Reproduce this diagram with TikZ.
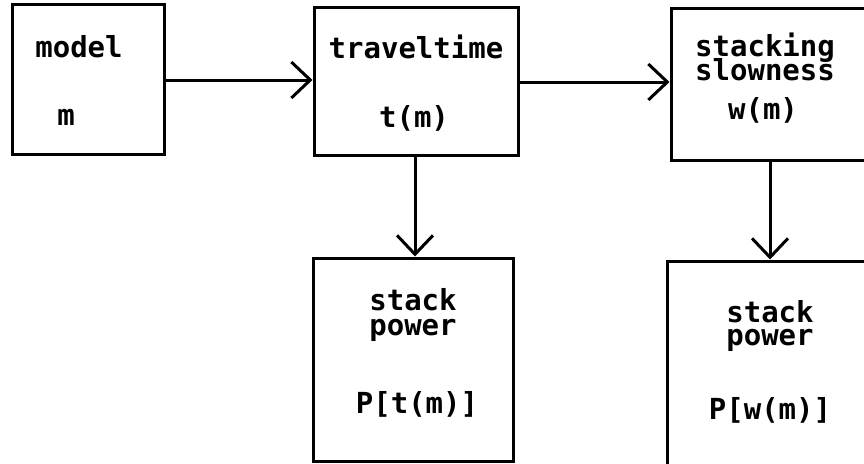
\documentclass[tikz,border=0pt]{standalone}
\usepackage{fontspec}
\setmonofont{DejaVu Sans Mono}
\usetikzlibrary{arrows.meta}
\begin{document}
\begin{tikzpicture}[x=1pt,y=-1pt,
  box/.style={draw, line width=3pt, rectangle, inner sep=0pt},
  lbl/.style={font=\ttfamily\bfseries\fontsize{29}{30}\selectfont, inner sep=0pt, anchor=base},
  flow/.style={line width=3pt, -{Straight Barb[length=19pt,width=36pt,line width=3pt]}}]
\clip (0,0) rectangle (864,463);
% boxes
\node[box, minimum width=152pt, minimum height=150pt] (model) at (88,79) {};
\node[box, minimum width=204pt, minimum height=148pt] (tt) at (416,81) {};
\node[box, minimum width=230pt, minimum height=152pt] (ss) at (786,84) {};
\node[box, minimum width=200pt, minimum height=203pt] (sp1) at (413,359.5) {};
\node[box, minimum width=230pt, minimum height=240pt] (sp2) at (782,381) {};
% labels
\node[lbl] (tmodel) at (79,57) {model};
\node[lbl] (tm) at (66,125) {m};
\node[lbl] (ttt) at (416,58) {traveltime};
\node[lbl] (ttm) at (414,127) {t(m)};
\node[lbl] (tstk) at (765,56) {stacking};
\node[lbl] (tslo) at (765,80) {slowness};
\node[lbl] (twm) at (763,119) {w(m)};
\node[lbl] (tst1) at (413,310) {stack};
\node[lbl] (tpw1) at (413,335) {power};
\node[lbl] (tpt) at (417,413) {P[t(m)]};
\node[lbl] (tst2) at (770,322) {stack};
\node[lbl] (tpw2) at (770,345) {power};
\node[lbl] (tpwm) at (770,419) {P[w(m)]};
% connectors
\draw[flow] (model.east |- 0,80) -- (tt.west |- 0,80);
\draw[flow] (tt.east |- 0,82) -- (ss.west |- 0,82);
\draw[flow] (tt.south -| 415,0) -- (sp1.north -| 415,0);
\draw[flow] (ss.south -| 770,0) -- (sp2.north -| 770,0);
\end{tikzpicture}
\end{document}
